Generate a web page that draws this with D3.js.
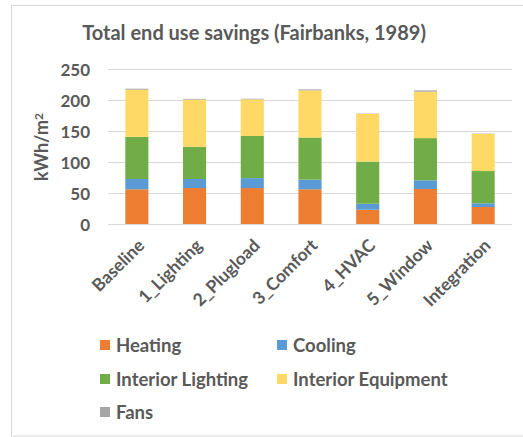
<!DOCTYPE html>
<html>
<head>
<meta charset="utf-8">
<script src="https://cdnjs.cloudflare.com/ajax/libs/d3/7.8.5/d3.min.js"></script>
<style>
	body { margin: 0; background: #fff; }
	text { font-family: Lato, "Open Sans", sans-serif; font-weight: bold; fill: #595959; }
</style>
</head>
<body>
<div id="main"></div>
<script>
// data
var categories = ["Baseline", "1_Lighting", "2_Plugload", "3_Comfort", "4_HVAC", "5_Window", "Integration"];
var seriesNames = ["Heating", "Cooling", "Interior Lighting", "Interior Equipment", "Fans"];
var heating = [56, 58, 58, 56, 23, 56.5, 27.4];
var cooling = [16.6, 14.6, 16, 15.5, 9.7, 14, 6];
var interiorLighting = [68, 52, 68, 68, 68, 68, 52];
var interiorEquipment = [76, 76, 59, 76, 77, 75, 60];
var fans = [1.6, 1.2, 1, 1.6, 0.5, 2, 0.5];
var yTicks = [0, 50, 100, 150, 200, 250];
var colors = ["#ED7D31", "#5B9BD5", "#70AD47", "#FFD966", "#A5A5A5"];

var w = 523, h = 437;
var margin = { top: 69, left: 108, right: 11, bottom: 213 };

var svg = d3.select("#main")
	.append("svg")
	.attr("width", w)
	.attr("height", h)

// chart border
svg.append("rect")
	.attr("x", 11.5)
	.attr("y", 5.5)
	.attr("width", 530)
	.attr("height", 430.5)
	.attr("fill", "none")
	.attr("stroke", "#d9d9d9")

svg.append("text")
	.attr("x", 254)
	.attr("y", 40)
	.attr("text-anchor", "middle")
	.style("font-size", "20px")
	.text("Total end use savings (Fairbanks, 1989)")

var x = d3.scaleBand()
	.domain(categories)
	.range([margin.left, w - margin.right])
	.paddingInner(0.6)
	.paddingOuter(0.3)

var y = d3.scaleLinear()
	.domain([0, 250])
	.range([h - margin.bottom, margin.top])

// gridlines
svg.append("g")
	.selectAll("line")
	.data(yTicks)
	.enter()
	.append("line")
	.attr("x1", margin.left)
	.attr("x2", w - margin.right)
	.attr("y1", function(d) { return Math.round(y(d)) + 0.5 })
	.attr("y2", function(d) { return Math.round(y(d)) + 0.5 })
	.attr("stroke", "#d9d9d9")
	.attr("stroke-width", 1)

var yAxis = svg.append("g")
	.attr("transform", "translate(90,0)")
	.call(d3.axisLeft(y).tickValues(yTicks).tickSize(0).tickPadding(0))
yAxis.select(".domain").remove()
yAxis.selectAll("text")
	.style("font-size", "17px")
	.attr("dy", "0.36em")

// stacked bars
var rows = categories.map(function(c, i) {
	return { cat: c, Heating: heating[i], Cooling: cooling[i], "Interior Lighting": interiorLighting[i],
		"Interior Equipment": interiorEquipment[i], Fans: fans[i] }
})
var stacked = d3.stack().keys(seriesNames)(rows)

svg.append("g")
	.selectAll("g")
	.data(stacked)
	.enter()
	.append("g")
	.attr("fill", function(d, i) { return colors[i] })
	.selectAll("rect")
	.data(function(d) { return d })
	.enter()
	.append("rect")
	.attr("x", function(d) { return x(d.data.cat) })
	.attr("width", x.bandwidth())
	.attr("y", function(d) { return y(d[1]) })
	.attr("height", function(d) { return y(d[0]) - y(d[1]) })

// x labels
svg.append("g")
	.selectAll("text")
	.data(categories)
	.enter()
	.append("text")
	.attr("transform", function(d) {
		return "translate(" + (x(d) + x.bandwidth() / 2) + ",238) rotate(-45)"
	})
	.attr("text-anchor", "end")
	.attr("dy", "0.7em")
	.style("font-size", "17.5px")
	.text(function(d) { return d })

// y label
var yl = svg.append("text")
	.attr("transform", "translate(48,147) rotate(-90)")
	.attr("text-anchor", "middle")
	.style("font-size", "18px")
yl.append("tspan").text("kWh/m")
yl.append("tspan").attr("dy", "-0.45em").style("font-size", "12px").text("2")

// legend
var legendPos = [[100, 345], [277, 345], [100, 379], [277, 379], [100, 412]]
var legend = svg.append("g")
	.selectAll("g")
	.data(seriesNames)
	.enter()
	.append("g")
	.attr("transform", function(d, i) { return "translate(" + legendPos[i][0] + "," + legendPos[i][1] + ")" })
legend.append("rect")
	.attr("x", 0)
	.attr("y", -5)
	.attr("width", 10)
	.attr("height", 10)
	.attr("fill", function(d, i) { return colors[i] })
legend.append("text")
	.attr("x", 16)
	.attr("dy", "0.36em")
	.style("font-size", "18.5px")
	.text(function(d) { return d })
</script>
</body>
</html>
